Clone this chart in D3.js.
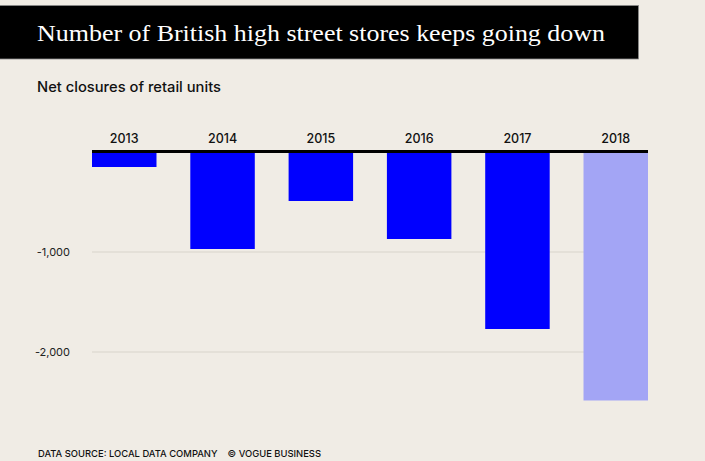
<!DOCTYPE html>
<html>
<head>
<meta charset="utf-8">
<script src="https://cdn.jsdelivr.net/npm/d3@7"></script>
<style>
  html, body { margin: 0; padding: 0; background: #f0ece5; }
  svg { display: block; }
</style>
</head>
<body>
<svg id="chart" width="705" height="461"></svg>
<script>
const years = ["2013", "2014", "2015", "2016", "2017", "2018"];
const netClosures = [-155, -975, -495, -875, -1775, -2490];
const yTicks = [-1000, -2000];
const highlightYear = "2018";

const W = 705, H = 461;
const svg = d3.select("#chart");
svg.append("rect").attr("width", W).attr("height", H).attr("fill", "#f0ece5");

// Title bar
svg.append("rect")
  .attr("x", -1).attr("y", 5.5).attr("width", 639.5).attr("height", 53.5)
  .attr("fill", "#000").attr("stroke", "#8a8a8a").attr("stroke-width", 0.8);
svg.append("text")
  .attr("x", 37).attr("y", 41)
  .attr("fill", "#fff")
  .attr("font-family", "'Liberation Serif', 'DejaVu Serif', serif")
  .attr("font-size", 24)
  .attr("textLength", 568)
  .attr("lengthAdjust", "spacingAndGlyphs")
  .text("Number of British high street stores keeps going down");

svg.append("text")
  .attr("x", 37).attr("y", 92)
  .attr("fill", "#111")
  .attr("font-family", "Inter, 'Noto Sans', sans-serif")
  .attr("font-weight", 500)
  .attr("font-size", 14)
  .attr("textLength", 184)
  .attr("lengthAdjust", "spacingAndGlyphs")
  .text("Net closures of retail units");

const x = d3.scaleBand().domain(years).range([92, 648]).paddingInner(0.344).paddingOuter(0);
const y = d3.scaleLinear().domain([0, -2500]).range([151.5, 401.5]);

// Gridlines
const fmt = d => d3.format(",")(d).replace("\u2212", "-");
const yAxis = d3.axisLeft(y).tickValues(yTicks).tickSize(-(648 - 92)).tickFormat(fmt).tickPadding(22);
const gy = svg.append("g").attr("transform", "translate(92,0)").call(yAxis);
gy.select(".domain").remove();
gy.selectAll(".tick line").attr("stroke", "#d8d4cb").attr("stroke-width", 1);
gy.selectAll(".tick text")
  .attr("fill", "#222")
  .attr("font-family", "Inter, 'Noto Sans', sans-serif")
  .attr("font-size", 11)
  .attr("x", -22);

// Bars
svg.append("g").selectAll("rect")
  .data(years.map((yr, i) => ({ yr, v: netClosures[i] })))
  .join("rect")
  .attr("x", d => x(d.yr))
  .attr("y", y(0))
  .attr("width", x.bandwidth())
  .attr("height", d => y(d.v) - y(0))
  .attr("fill", d => d.yr === highlightYear ? "#a3a5f5" : "#0000ff");

// Zero line
svg.append("line")
  .attr("x1", 92).attr("x2", 648)
  .attr("y1", y(0)).attr("y2", y(0))
  .attr("stroke", "#000").attr("stroke-width", 3);

// Year labels (top axis)
const xAxis = d3.axisTop(x).tickSize(0).tickPadding(0);
const gx = svg.append("g").attr("transform", "translate(0,143)").call(xAxis);
gx.select(".domain").remove();
gx.selectAll(".tick text")
  .attr("fill", "#111")
  .attr("font-family", "Inter, 'Noto Sans', sans-serif")
  .attr("font-weight", 500)
  .attr("font-size", 12.5)
  .attr("dy", 0);

// Footer
svg.append("text")
  .attr("x", 38).attr("y", 456.5)
  .attr("fill", "#111")
  .attr("font-family", "Inter, 'Noto Sans', sans-serif")
  .attr("font-weight", 500)
  .attr("font-size", 9.5)
  .attr("textLength", 283)
  .attr("lengthAdjust", "spacingAndGlyphs")
  .attr("xml:space", "preserve")
  .text("DATA SOURCE: LOCAL DATA COMPANY    \u00A9 VOGUE BUSINESS");
</script>
</body>
</html>
